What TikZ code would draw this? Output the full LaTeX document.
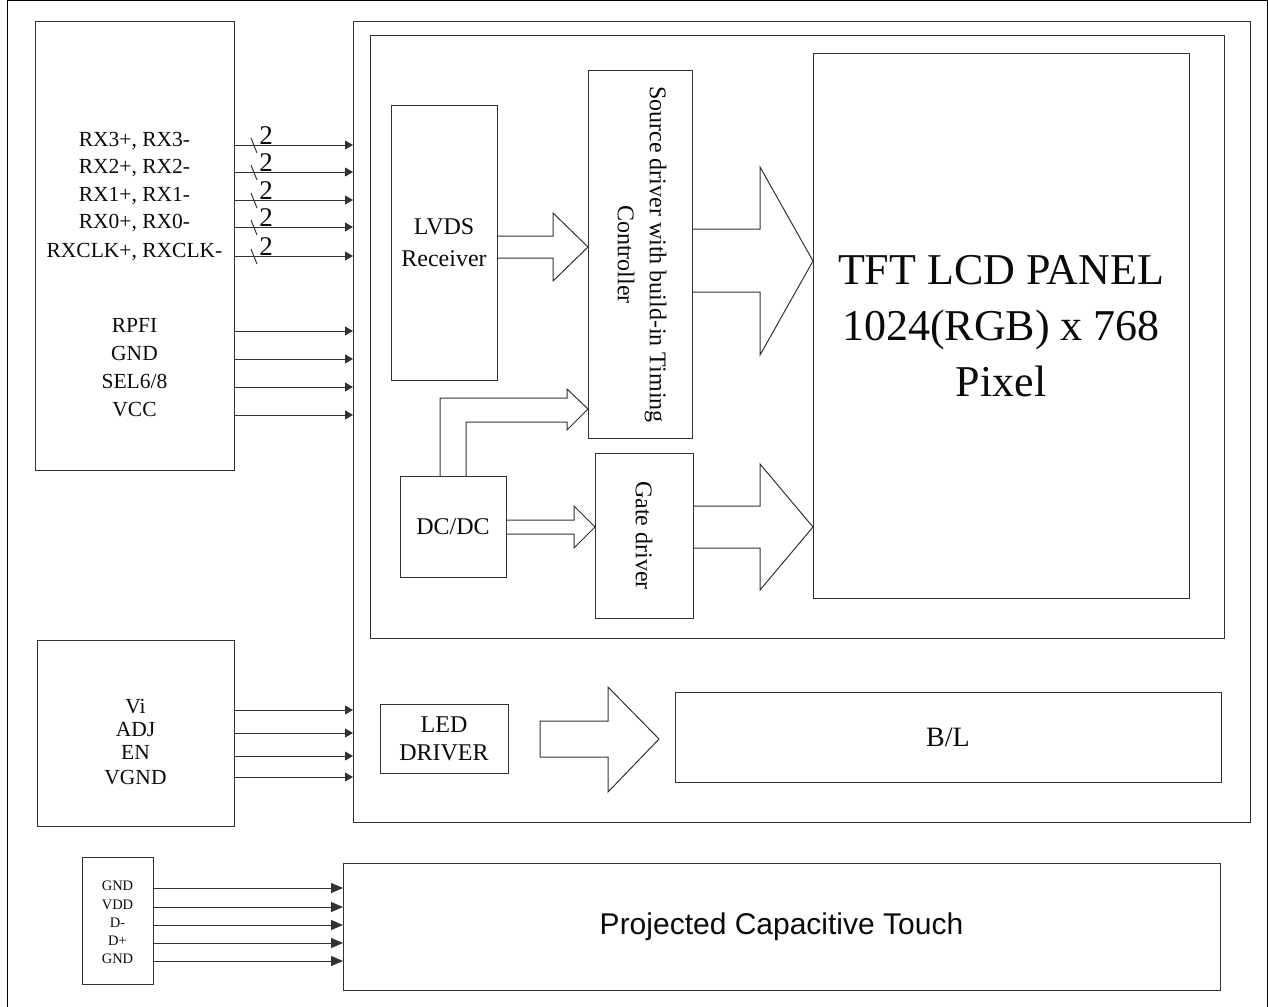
\documentclass[tikz,border=0pt]{standalone}
\usepackage{fontspec}
\setmainfont{Liberation Serif}
\newfontfamily\touchfont{Liberation Sans}
\usepackage{xcolor}
\usepackage{tikz}
\usetikzlibrary{arrows.meta,positioning,calc}
\definecolor{ink}{RGB}{10,10,10}
\definecolor{edge}{RGB}{50,50,50}

\begin{document}
\begin{tikzpicture}[x=1pt,y=-1pt,line width=1pt,
  blk/.style={draw=edge,anchor=north west,inner sep=0pt,outer sep=0pt,align=center,text=ink,font=\fontsize{24}{32}\selectfont},
  lbl/.style={inner sep=0pt,text=ink,text height=0.7em,text depth=0.2em,font=\fontsize{21.5}{26}\selectfont},
  small/.style={inner sep=0pt,text=ink,text height=0.7em,text depth=0.2em,font=\fontsize{14.5}{18}\selectfont},
  num/.style={inner sep=0pt,text=ink,font=\fontsize{27}{30}\selectfont},
  sig/.style={-{Triangle[length=8pt,width=9pt]},draw=edge},
  tsig/.style={-{Triangle[length=12pt,width=10pt]},draw=edge},
  fat/.style={draw=edge,line join=miter}]
  \useasboundingbox (0,0) rectangle (1268,1006);
  % frame
  \draw[black] (7,1010) -- (7,1) -- (1267,1) -- (1267,1010);
  % boxes
  \node[blk,minimum width=199pt,minimum height=448pt] (lvdsconn) at (35,22) {};
  \node[blk,minimum width=897pt,minimum height=800pt] (module) at (353,22) {};
  \node[blk,minimum width=854pt,minimum height=602pt] (inner) at (370,36) {};
  \node[blk,minimum width=106pt,minimum height=274pt] (lvds) at (391,106) {LVDS\\Receiver};
  \node[blk,minimum width=104pt,minimum height=367pt] (src) at (588,71) {};
  \node[rotate=-90,align=center,inner sep=0pt,text=ink,font=\fontsize{24}{32}\selectfont] (srctext) at ($(src.center)+(2,0)$) {Source driver with build-in Timing\\Controller};
  \node[blk,minimum width=376pt,minimum height=544pt,font=\fontsize{44}{56}\selectfont] (panel) at (813,54) {TFT LCD PANEL\\1024(RGB) x 768\\Pixel};
  \node[blk,minimum width=98pt,minimum height=165pt] (gate) at (595,453) {};
  \node[rotate=-90,inner sep=0pt,text=ink,font=\fontsize{24}{32}\selectfont] (gatetext) at (gate.center) {Gate driver};
  \node[blk,minimum width=106pt,minimum height=101pt] (dcdc) at (400,476) {DC/DC};
  \node[blk,minimum width=197pt,minimum height=186pt] (blconn) at (37,640) {};
  \node[blk,minimum width=128pt,minimum height=69pt,font=\fontsize{24}{28}\selectfont] (led) at (380,704) {LED\\DRIVER};
  \node[blk,minimum width=546pt,minimum height=90pt,font=\fontsize{28}{32}\selectfont] (bl) at (675,692) {B/L};
  \node[blk,minimum width=71pt,minimum height=127pt] (tconn) at (82,857) {};
  \node[blk,minimum width=877pt,minimum height=127pt,font=\touchfont\fontsize{30}{34}\selectfont] (touch) at (343,863) {Projected Capacitive Touch};
  % LVDS signals
  \foreach \sname/\y in {{RX3+, RX3-}/145,{RX2+, RX2-}/172,{RX1+, RX1-}/200,{RX0+, RX0-}/227,{RXCLK+, RXCLK-}/256}{
    \node[lbl] (rx\y) at ($(lvdsconn.north |- 0,\y)+(0,-1)$) {\sname};
    \draw[sig] (lvdsconn.east |- 0,\y) -- (module.west |- 0,\y);
    \draw[draw=edge] (251,\y-7) -- (257,\y+8);
    \node[num] (bus\y) at (266,\y-9) {2};
  }
  \foreach \sname/\y in {RPFI/331,GND/359,{SEL6/8}/387,VCC/415}{
    \node[lbl] (ctl\y) at ($(lvdsconn.north |- 0,\y)+(0,-1)$) {\sname};
    \draw[sig] (lvdsconn.east |- 0,\y) -- (module.west |- 0,\y);
  }
  % backlight signals
  \foreach \sname/\y/\ly in {Vi/710/711,ADJ/733/734,EN/756/757,VGND/777/782}{
    \node[lbl] (bl\y) at (blconn.north |- 0,\ly) {\sname};
    \draw[sig] (blconn.east |- 0,\y) -- (module.west |- 0,\y);
  }
  % touch signals
  \foreach \sname/\y in {GND/888,VDD/907,D-/925,D+/943,GND/961}{
    \node[small] (t\y) at (tconn.north |- 0,\y) {\sname};
    \draw[tsig] (tconn.east |- 0,\y) -- (touch.west |- 0,\y);
  }
  % block arrows
  \draw[fat] (lvds.east |- 0,236) -- (553,236) -- (553,213) -- (src.west |- 0,247) -- (553,281) -- (553,258) -- (lvds.east |- 0,258);
  \draw[fat] (src.east |- 0,229) -- (760,229) -- (760,167) -- (panel.west |- 0,261) -- (760,355) -- (760,292) -- (src.east |- 0,292);
  \draw[fat] (dcdc.north -| 440,0) |- (567,398) -- (567,389) -- (src.west |- 0,409) -- (567,430) -- (567,422) -| (dcdc.north -| 466,0);
  \draw[fat] (dcdc.east |- 0,520) -- (574,520) -- (574,506) -- (gate.west |- 0,527) -- (574,548) -- (574,534) -- (dcdc.east |- 0,534);
  \draw[fat] (gate.east |- 0,506) -- (760,506) -- (760,464) -- (panel.west |- 0,527) -- (760,590) -- (760,548) -- (gate.east |- 0,548);
  \draw[fat] (540,721) -- (608,721) -- (608,687) -- (659,739) -- (608,792) -- (608,757) -- (540,757) -- cycle;
\end{tikzpicture}
\end{document}
